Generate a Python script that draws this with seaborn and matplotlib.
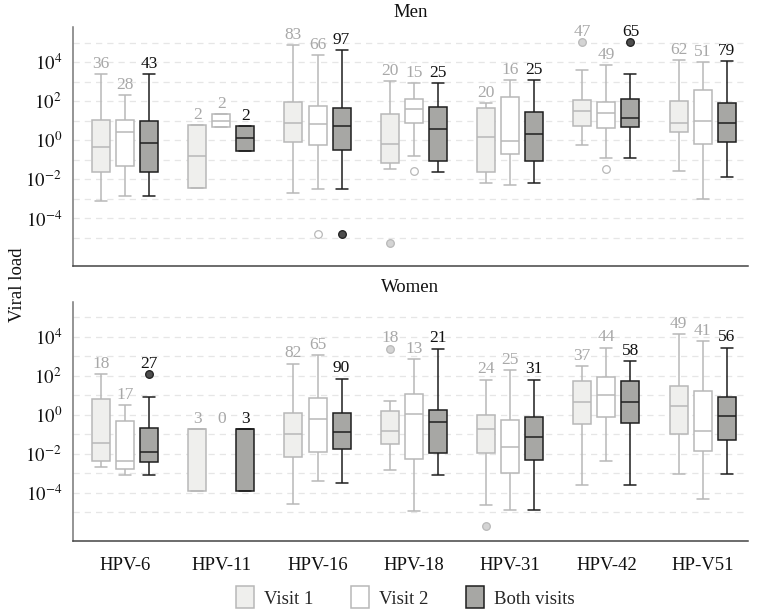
import numpy as np
import pandas as pd
import seaborn as sns
import matplotlib.pyplot as plt
from matplotlib.patches import Patch
from matplotlib.ticker import FixedLocator, FuncFormatter

# HPV types and groups
types = ["HPV-6", "HPV-11", "HPV-16", "HPV-18", "HPV-31", "HPV-42", "HP-V51"]
groups = ["Visit 1", "Visit 2", "Both visits"]

# box summaries as log10 values: (low whisker, q1, median, q3, high whisker)
men_visit1 = [(-3.13, -1.63, -0.34, 1.02, 3.40), (-2.47, -2.47, -0.83, 0.78, 0.78),
              (-2.69, -0.09, 0.89, 1.96, 4.85), (-1.45, -1.16, -0.17, 1.36, 3.01),
              (-2.21, -1.63, 0.15, 1.65, 1.91), (-0.24, 0.75, 1.48, 2.04, 3.57),
              (-1.55, 0.41, 0.89, 2.03, 4.12)]
men_visit2 = [(-2.86, -1.33, 0.41, 1.02, 2.33), (0.66, 0.66, 0.99, 1.34, 1.34),
              (-2.52, -0.22, 0.83, 1.74, 4.34), (-0.82, 0.89, 1.60, 2.11, 2.93),
              (-2.30, -0.70, -0.02, 2.20, 3.10), (-0.89, 0.63, 1.40, 1.94, 3.86),
              (-3.03, -0.17, 1.00, 2.59, 4.00)]
men_both = [(-2.86, -1.63, -0.14, 0.97, 3.40), (-0.54, -0.54, 0.09, 0.71, 0.71),
            (-2.52, -0.49, 0.71, 1.65, 4.60), (-1.63, -1.04, 0.58, 1.69, 2.93),
            (-2.18, -1.07, 0.32, 1.45, 3.10), (-0.89, 0.70, 1.16, 2.13, 3.40),
            (-1.86, -0.10, 0.89, 1.89, 4.05)]
women_visit1 = [(-2.67, -2.38, -1.44, 0.82, 2.09), (-3.90, -3.90, -0.72, -0.72, -0.72),
                (-4.55, -2.15, -0.99, 0.10, 2.63), (-2.84, -1.47, -0.85, 0.22, 0.70),
                (-4.63, -1.98, -0.70, -0.02, 1.81), (-3.61, -0.48, 0.68, 1.74, 2.50),
                (-3.04, -0.96, 0.46, 1.50, 4.12)]
women_visit2 = [(-3.09, -2.75, -2.38, -0.31, 0.51), None,
                (-3.40, -1.90, -0.19, 0.84, 3.08), (-4.94, -2.27, 0.07, 1.08, 2.85),
                (-4.89, -2.96, -1.64, -0.24, 2.32), (-2.39, -0.12, 1.04, 1.95, 3.45),
                (-4.31, -1.86, -0.84, 1.20, 3.79)]
women_both = [(-3.09, -2.44, -1.90, -0.65, 0.92), (-3.90, -3.90, -0.72, -0.72, -0.72),
              (-3.47, -1.73, -0.89, 0.12, 1.86), (-3.08, -1.95, -0.39, 0.26, 3.40),
              (-4.89, -2.32, -1.16, -0.10, 1.81), (-3.61, -0.44, 0.67, 1.76, 2.77),
              (-3.04, -1.30, -0.07, 0.92, 3.45)]

# outliers (log10), one per box at most
men_out_visit1 = [None, None, None, -5.24, None, 5.02, None]
men_out_visit2 = [None, None, -4.82, -1.57, None, -1.45, None]
men_out_both = [None, None, -4.82, None, None, 5.02, None]
women_out_visit1 = [None, None, None, 3.40, -5.69, None, None]
women_out_visit2 = [None, None, None, None, None, None, None]
women_out_both = [2.10, None, None, None, None, None, None]

# sample sizes printed above boxes
men_n_visit1 = [36, 2, 83, 20, 20, 47, 62]
men_n_visit2 = [28, 2, 66, 15, 16, 49, 51]
men_n_both = [43, 2, 97, 25, 25, 65, 79]
women_n_visit1 = [18, 3, 82, 18, 24, 37, 49]
women_n_visit2 = [17, 0, 65, 13, 25, 44, 41]
women_n_both = [27, 3, 90, 21, 31, 58, 56]

panels = {
    "Men": ([men_visit1, men_visit2, men_both],
            [men_out_visit1, men_out_visit2, men_out_both],
            [men_n_visit1, men_n_visit2, men_n_both]),
    "Women": ([women_visit1, women_visit2, women_both],
              [women_out_visit1, women_out_visit2, women_out_both],
              [women_n_visit1, women_n_visit2, women_n_both]),
}

fills = {"Visit 1": "#efefed", "Visit 2": "#ffffff", "Both visits": "#a7a7a4"}
lines = {"Visit 1": "#b8b8b8", "Visit 2": "#b8b8b8", "Both visits": "#1e1e1e"}
flier_fill = {"Visit 1": "#d4d4d4", "Visit 2": "#ffffff", "Both visits": "#4d4d4d"}
text_col = {"Visit 1": "#a8a8a8", "Visit 2": "#a8a8a8", "Both visits": "#111111"}


def box_points(stats, out):
    # nine points whose quartiles and whiskers reproduce the box
    lo, q1, med, q3, hi = stats
    first = out if (out is not None and out < lo) else lo
    last = out if (out is not None and out > hi) else hi
    return [first, lo, q1, q1, med, q3, q3, hi, last]


sns.set_theme(style="white")
plt.rcParams["font.family"] = ["Liberation Serif", "DejaVu Serif"]
plt.rcParams["mathtext.fontset"] = "stix"

fig = plt.figure(figsize=(7.57, 6.12), dpi=100)
ax_men = fig.add_axes([0.0964, 0.565, 0.8916, 0.391])
ax_women = fig.add_axes([0.0964, 0.1165, 0.8916, 0.3905])

for name, ax in [("Men", ax_men), ("Women", ax_women)]:
    boxes, outs, counts = panels[name]
    rows = []
    for g, grp in enumerate(groups):
        for i, t in enumerate(types):
            if boxes[g][i] is None:
                continue
            for v in box_points(boxes[g][i], outs[g][i]):
                rows.append({"type": t, "group": grp, "load": 10 ** v})
    df = pd.DataFrame(rows)

    ax.set_yscale("log")
    for grp in groups:
        sub = df[df["group"] == grp]
        sns.boxplot(data=sub, x="type", y="load", hue="group", order=types,
                    hue_order=groups, palette=fills, saturation=1, dodge=True,
                    width=0.75, gap=0.25, whis=1.5, linecolor=lines[grp],
                    linewidth=1.1, capwidths=0.125, legend=False, ax=ax,
                    flierprops=dict(marker="o", markersize=5.5,
                                    markerfacecolor=flier_fill[grp],
                                    markeredgecolor=lines[grp],
                                    markeredgewidth=0.9))

    # sample size labels
    for g, grp in enumerate(groups):
        for i in range(len(types)):
            if boxes[g][i] is not None:
                top = boxes[g][i][4]
                if outs[g][i] is not None:
                    top = max(top, outs[g][i])
            else:
                top = max(b[i][4] for b in boxes if b[i] is not None)
            ax.annotate(str(counts[g][i]), (i + (g - 1) * 0.25, 10 ** top),
                        xytext=(0, 1.5), textcoords="offset points",
                        ha="center", va="bottom", fontsize=12.5,
                        color=text_col[grp])

    ax.set_xlim(-0.54, 6.47)
    ax.set_ylim(10 ** -6.45, 10 ** 5.8)
    ax.yaxis.set_major_locator(FixedLocator([10.0 ** k for k in range(-5, 6)]))
    ax.yaxis.set_minor_locator(FixedLocator([]))
    ax.yaxis.set_major_formatter(FuncFormatter(
        lambda v, p: r"$10^{%d}$" % round(np.log10(v)) if round(np.log10(v)) % 2 == 0 else ""))
    ax.grid(axis="y", color="#e6e6e6", linestyle=(0, (5, 4)), linewidth=0.9)
    ax.set_axisbelow(True)
    ax.tick_params(axis="y", length=5, width=1, color="#666666", labelsize=13.5,
                   pad=3, labelcolor="#111111")
    ax.tick_params(axis="x", length=0, labelsize=13.5, pad=12, labelcolor="#111111")
    for s in ["top", "right"]:
        ax.spines[s].set_visible(False)
    ax.spines["left"].set_color("#777777")
    ax.spines["bottom"].set_color("#444444")
    ax.spines["left"].set_linewidth(1.1)
    ax.spines["bottom"].set_linewidth(1.1)
    ax.set_xlabel("")
    ax.set_ylabel("")
    ax.set_title(name, fontsize=13.5, pad=7, color="#111111")

ax_men.set_xticklabels([])

fig.text(0.012, 0.534, "Viral load", rotation=90, va="center", ha="left",
         fontsize=13.5, color="#111111")

handles = [Patch(facecolor=fills[g], edgecolor=lines[g], linewidth=1.1, label=g)
           for g in groups]
fig.legend(handles=handles, loc="center", bbox_to_anchor=(0.535, 0.024),
           ncol=3, frameon=False, fontsize=13.5, handlelength=1.0,
           handleheight=1.4, handletextpad=0.5, columnspacing=2.0)

plt.savefig("out.png", dpi=100)
